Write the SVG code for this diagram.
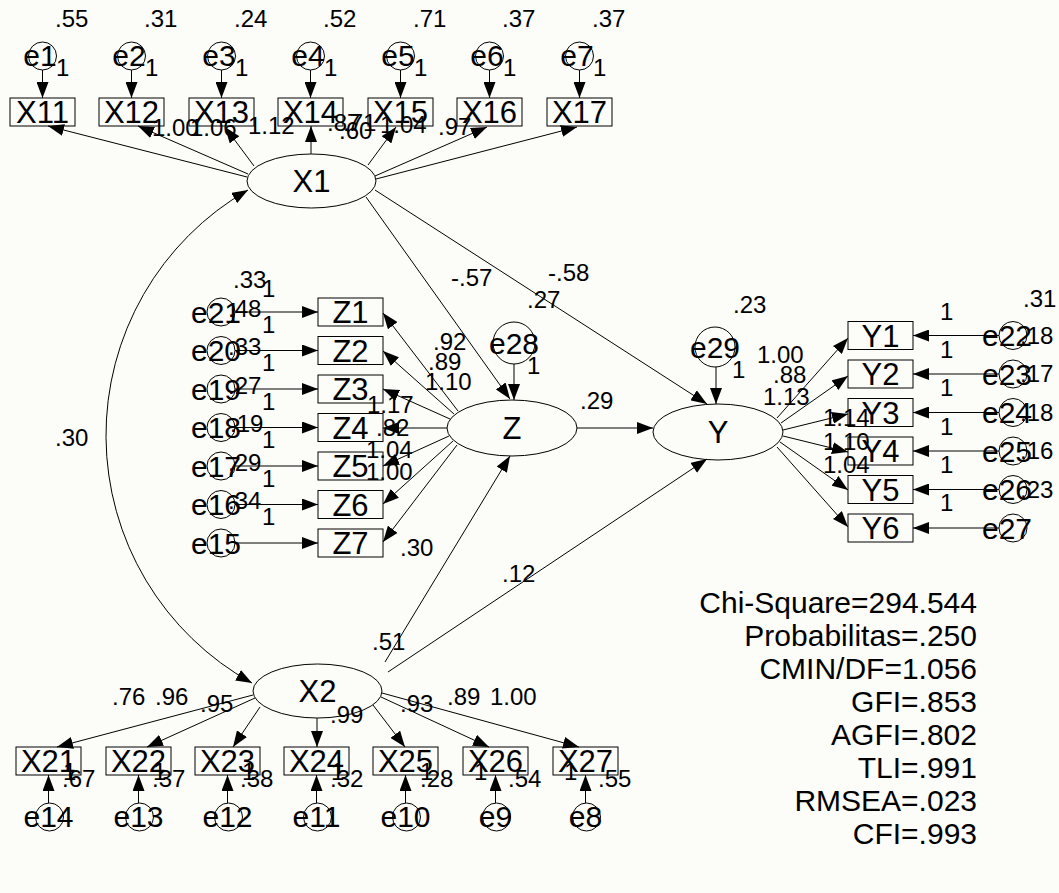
<svg xmlns="http://www.w3.org/2000/svg" width="1059" height="893" viewBox="0 0 1059 893">
<style>
.sh{fill:none;stroke:#000;stroke-width:1}
text{font-family:"Liberation Sans",Arial,sans-serif;fill:#000}
.n{font-size:31px;text-anchor:middle}
.e{font-size:30px;text-anchor:middle}
.eb{font-size:30px;text-anchor:middle}
.s{font-size:24px}
.st{font-size:30px;text-anchor:end}
.c{fill:none;stroke:#000;stroke-width:1;marker-end:url(#ah)}
</style>
<defs>
<marker id="ah" markerUnits="userSpaceOnUse" markerWidth="16" markerHeight="12" refX="16" refY="6" orient="auto"><path d="M0,0 L16,6 L0,12 z" fill="#000"/></marker>
<marker id="ah2" markerUnits="userSpaceOnUse" markerWidth="16" markerHeight="12" refX="16" refY="6" orient="auto-start-reverse"><path d="M0,0 L16,6 L0,12 z" fill="#000"/></marker>
</defs>
<rect width="1059" height="893" fill="#fcfcf8"/>

<g id="connectors">
<line class="c" x1="42.5" y1="70" x2="42.5" y2="98"/>
<line class="c" x1="131.5" y1="70" x2="131.5" y2="98"/>
<line class="c" x1="221.5" y1="70" x2="221.5" y2="98"/>
<line class="c" x1="310.5" y1="70" x2="310.5" y2="98"/>
<line class="c" x1="400.5" y1="70" x2="400.5" y2="98"/>
<line class="c" x1="489.5" y1="70" x2="489.5" y2="98"/>
<line class="c" x1="579.5" y1="70" x2="579.5" y2="98"/>
<line class="c" x1="247" y1="177" x2="48" y2="126"/>
<line class="c" x1="248" y1="174" x2="138" y2="126"/>
<line class="c" x1="254" y1="166" x2="225" y2="127"/>
<line class="c" x1="311" y1="154" x2="311" y2="126"/>
<line class="c" x1="368" y1="165" x2="396" y2="127"/>
<line class="c" x1="375" y1="176" x2="487" y2="127"/>
<line class="c" x1="376" y1="179" x2="577" y2="127"/>
<path d="M248 190 A283 283 0 0 0 252 683" fill="none" stroke="#000" stroke-width="1" marker-start="url(#ah2)" marker-end="url(#ah2)"/>
<line class="c" x1="235" y1="312" x2="318" y2="312"/>
<line class="c" x1="235" y1="350.5" x2="318" y2="350.5"/>
<line class="c" x1="235" y1="389" x2="318" y2="389"/>
<line class="c" x1="235" y1="427.5" x2="318" y2="427.5"/>
<line class="c" x1="235" y1="466" x2="318" y2="466"/>
<line class="c" x1="235" y1="504.5" x2="318" y2="504.5"/>
<line class="c" x1="235" y1="543" x2="318" y2="543"/>
<line class="c" x1="458" y1="411" x2="383" y2="313"/>
<line class="c" x1="454" y1="414" x2="383" y2="351"/>
<line class="c" x1="450" y1="419" x2="383" y2="389"/>
<line class="c" x1="447" y1="428" x2="383" y2="428"/>
<line class="c" x1="449" y1="436" x2="383" y2="466"/>
<line class="c" x1="453" y1="441" x2="383" y2="504"/>
<line class="c" x1="457" y1="445" x2="383" y2="542"/>
<line class="c" x1="514" y1="364" x2="514" y2="400"/>
<line class="c" x1="716" y1="367" x2="716" y2="404"/>
<line class="c" x1="366" y1="197" x2="510" y2="399"/>
<line class="c" x1="375" y1="190" x2="707" y2="404"/>
<line class="c" x1="577" y1="428" x2="653" y2="428"/>
<line class="c" x1="385" y1="662" x2="510" y2="456"/>
<line class="c" x1="388" y1="672" x2="707" y2="459"/>
<line class="c" x1="777" y1="418" x2="848" y2="338"/>
<line class="c" x1="781" y1="423" x2="848" y2="376"/>
<line class="c" x1="783" y1="430" x2="848" y2="414"/>
<line class="c" x1="783" y1="436" x2="848" y2="452"/>
<line class="c" x1="780" y1="442" x2="848" y2="490"/>
<line class="c" x1="777" y1="447" x2="848" y2="527"/>
<line class="c" x1="999" y1="335.5" x2="913" y2="335.5"/>
<line class="c" x1="999" y1="374" x2="913" y2="374"/>
<line class="c" x1="999" y1="412.5" x2="913" y2="412.5"/>
<line class="c" x1="999" y1="451" x2="913" y2="451"/>
<line class="c" x1="999" y1="489.5" x2="913" y2="489.5"/>
<line class="c" x1="999" y1="528" x2="913" y2="528"/>
<line class="c" x1="253" y1="695" x2="57" y2="747"/>
<line class="c" x1="255" y1="698" x2="147" y2="747"/>
<line class="c" x1="260" y1="707" x2="233" y2="747"/>
<line class="c" x1="317" y1="718" x2="317" y2="747"/>
<line class="c" x1="373" y1="705" x2="405" y2="747"/>
<line class="c" x1="381" y1="697" x2="489" y2="747"/>
<line class="c" x1="382" y1="693" x2="579" y2="747"/>
<line class="c" x1="48.5" y1="803" x2="48.5" y2="775"/>
<line class="c" x1="138.5" y1="803" x2="138.5" y2="775"/>
<line class="c" x1="227.5" y1="803" x2="227.5" y2="775"/>
<line class="c" x1="316.5" y1="803" x2="316.5" y2="775"/>
<line class="c" x1="405.5" y1="803" x2="405.5" y2="775"/>
<line class="c" x1="495.5" y1="803" x2="495.5" y2="775"/>
<line class="c" x1="585.5" y1="803" x2="585.5" y2="775"/>
</g>

<g id="X1"><ellipse class="sh" cx="311.5" cy="181" rx="64.5" ry="27"/><text class="n" x="311.5" y="192">X1</text></g>
<g id="X2"><ellipse class="sh" cx="317.5" cy="691" rx="64.5" ry="27"/><text class="n" x="317.5" y="702">X2</text></g>
<g id="Z"><ellipse class="sh" cx="512" cy="428" rx="65" ry="28"/><text class="n" x="512" y="439">Z</text></g>
<g id="Y"><ellipse class="sh" cx="718" cy="432" rx="65" ry="28"/><text class="n" x="718" y="443">Y</text></g>

<g id="X11"><rect class="sh" x="10" y="98" width="65" height="28"/><text class="n" x="42.5" y="123">X11</text></g>
<g id="X12"><rect class="sh" x="99" y="98" width="65" height="28"/><text class="n" x="131.5" y="123">X12</text></g>
<g id="X13"><rect class="sh" x="189" y="98" width="65" height="28"/><text class="n" x="221.5" y="123">X13</text></g>
<g id="X14"><rect class="sh" x="278" y="98" width="65" height="28"/><text class="n" x="310.5" y="123">X14</text></g>
<g id="X15"><rect class="sh" x="368" y="98" width="65" height="28"/><text class="n" x="400.5" y="123">X15</text></g>
<g id="X16"><rect class="sh" x="457" y="98" width="65" height="28"/><text class="n" x="489.5" y="123">X16</text></g>
<g id="X17"><rect class="sh" x="547" y="98" width="65" height="28"/><text class="n" x="579.5" y="123">X17</text></g>

<g id="e1"><circle class="sh" cx="42.5" cy="56" r="14"/><text class="e" x="40" y="66">e1</text></g>
<g id="e2"><circle class="sh" cx="131.5" cy="56" r="14"/><text class="e" x="129" y="66">e2</text></g>
<g id="e3"><circle class="sh" cx="221.5" cy="56" r="14"/><text class="e" x="219" y="66">e3</text></g>
<g id="e4"><circle class="sh" cx="310.5" cy="56" r="14"/><text class="e" x="308" y="66">e4</text></g>
<g id="e5"><circle class="sh" cx="400.5" cy="56" r="14"/><text class="e" x="398" y="66">e5</text></g>
<g id="e6"><circle class="sh" cx="489.5" cy="56" r="14"/><text class="e" x="487" y="66">e6</text></g>
<g id="e7"><circle class="sh" cx="579.5" cy="56" r="14"/><text class="e" x="577" y="66">e7</text></g>

<g id="Z1"><rect class="sh" x="318" y="298" width="65" height="28"/><text class="n" x="350.5" y="323">Z1</text></g>
<g id="Z2"><rect class="sh" x="318" y="336.5" width="65" height="28"/><text class="n" x="350.5" y="361.5">Z2</text></g>
<g id="Z3"><rect class="sh" x="318" y="375" width="65" height="28"/><text class="n" x="350.5" y="400">Z3</text></g>
<g id="Z4"><rect class="sh" x="318" y="413.5" width="65" height="28"/><text class="n" x="350.5" y="438.5">Z4</text></g>
<g id="Z5"><rect class="sh" x="318" y="452" width="65" height="28"/><text class="n" x="350.5" y="477">Z5</text></g>
<g id="Z6"><rect class="sh" x="318" y="490.5" width="65" height="28"/><text class="n" x="350.5" y="515.5">Z6</text></g>
<g id="Z7"><rect class="sh" x="318" y="529" width="65" height="28"/><text class="n" x="350.5" y="554">Z7</text></g>

<g id="e21"><circle class="sh" cx="221" cy="312" r="14"/><text class="e" x="216" y="322.5">e21</text></g>
<g id="e20"><circle class="sh" cx="221" cy="350.5" r="14"/><text class="e" x="216" y="361">e20</text></g>
<g id="e19"><circle class="sh" cx="221" cy="389" r="14"/><text class="e" x="216" y="399.5">e19</text></g>
<g id="e18"><circle class="sh" cx="221" cy="427.5" r="14"/><text class="e" x="216" y="438">e18</text></g>
<g id="e17"><circle class="sh" cx="221" cy="466" r="14"/><text class="e" x="216" y="476.5">e17</text></g>
<g id="e16"><circle class="sh" cx="221" cy="504.5" r="14"/><text class="e" x="216" y="515">e16</text></g>
<g id="e15"><circle class="sh" cx="221" cy="543" r="14"/><text class="e" x="216" y="553.5">e15</text></g>

<g id="e28"><circle class="sh" cx="514" cy="343" r="21"/><text class="eb" x="514" y="354">e28</text></g>
<g id="e29"><circle class="sh" cx="715" cy="347" r="20"/><text class="eb" x="715" y="358">e29</text></g>

<g id="Y1"><rect class="sh" x="848" y="321.5" width="65" height="28"/><text class="n" x="880.5" y="346.5">Y1</text></g>
<g id="Y2"><rect class="sh" x="848" y="360" width="65" height="28"/><text class="n" x="880.5" y="385">Y2</text></g>
<g id="Y3"><rect class="sh" x="848" y="398.5" width="65" height="28"/><text class="n" x="880.5" y="423.5">Y3</text></g>
<g id="Y4"><rect class="sh" x="848" y="437" width="65" height="28"/><text class="n" x="880.5" y="462">Y4</text></g>
<g id="Y5"><rect class="sh" x="848" y="475.5" width="65" height="28"/><text class="n" x="880.5" y="500.5">Y5</text></g>
<g id="Y6"><rect class="sh" x="848" y="514" width="65" height="28"/><text class="n" x="880.5" y="539">Y6</text></g>

<g id="e22"><circle class="sh" cx="1013" cy="335.5" r="14"/><text class="e" x="1007" y="346">e22</text></g>
<g id="e23"><circle class="sh" cx="1013" cy="374" r="14"/><text class="e" x="1007" y="384.5">e23</text></g>
<g id="e24"><circle class="sh" cx="1013" cy="412.5" r="14"/><text class="e" x="1007" y="423">e24</text></g>
<g id="e25"><circle class="sh" cx="1013" cy="451" r="14"/><text class="e" x="1007" y="461.5">e25</text></g>
<g id="e26"><circle class="sh" cx="1013" cy="489.5" r="14"/><text class="e" x="1007" y="500">e26</text></g>
<g id="e27"><circle class="sh" cx="1013" cy="528" r="14"/><text class="e" x="1007" y="538.5">e27</text></g>

<g id="X21"><rect class="sh" x="16" y="747" width="65" height="28"/><text class="n" x="48.5" y="772">X21</text></g>
<g id="X22"><rect class="sh" x="106" y="747" width="65" height="28"/><text class="n" x="138.5" y="772">X22</text></g>
<g id="X23"><rect class="sh" x="195" y="747" width="65" height="28"/><text class="n" x="227.5" y="772">X23</text></g>
<g id="X24"><rect class="sh" x="284" y="747" width="65" height="28"/><text class="n" x="316.5" y="772">X24</text></g>
<g id="X25"><rect class="sh" x="373" y="747" width="65" height="28"/><text class="n" x="405.5" y="772">X25</text></g>
<g id="X26"><rect class="sh" x="463" y="747" width="65" height="28"/><text class="n" x="495.5" y="772">X26</text></g>
<g id="X27"><rect class="sh" x="553" y="747" width="65" height="28"/><text class="n" x="585.5" y="772">X27</text></g>

<g id="e14"><circle class="sh" cx="49.5" cy="817" r="14"/><text class="e" x="48.5" y="827">e14</text></g>
<g id="e13"><circle class="sh" cx="139.5" cy="817" r="14"/><text class="e" x="138.5" y="827">e13</text></g>
<g id="e12"><circle class="sh" cx="228.5" cy="817" r="14"/><text class="e" x="227.5" y="827">e12</text></g>
<g id="e11"><circle class="sh" cx="317.5" cy="817" r="14"/><text class="e" x="316.5" y="827">e11</text></g>
<g id="e10"><circle class="sh" cx="406.5" cy="817" r="14"/><text class="e" x="405.5" y="827">e10</text></g>
<g id="e9"><circle class="sh" cx="496.5" cy="817" r="14"/><text class="e" x="495.5" y="827">e9</text></g>
<g id="e8"><circle class="sh" cx="586.5" cy="817" r="14"/><text class="e" x="585.5" y="827">e8</text></g>

<g id="labels">
<text class="s" x="55" y="27">.55</text><text class="s" x="144" y="27">.31</text><text class="s" x="234" y="27">.24</text><text class="s" x="323" y="27">.52</text><text class="s" x="413" y="27">.71</text><text class="s" x="502" y="27">.37</text><text class="s" x="592" y="27">.37</text>
<text class="s" x="56" y="76">1</text><text class="s" x="145" y="76">1</text><text class="s" x="235" y="76">1</text><text class="s" x="324" y="76">1</text><text class="s" x="414" y="76">1</text><text class="s" x="503" y="76">1</text><text class="s" x="593" y="76">1</text>
<text class="s" x="152" y="136">1.00</text><text class="s" x="190" y="136">1.06</text><text class="s" x="248" y="134">1.12</text>
<text class="s" x="327" y="131">.87</text><text class="s" x="343" y="131">.71</text><text class="s" x="339" y="139">.60</text>
<text class="s" x="380" y="133">1.04</text><text class="s" x="438" y="135">.97</text>
<text class="s" x="233" y="288">.33</text>
<text class="s" x="262" y="297">1</text><text class="s" x="262" y="333">1</text><text class="s" x="262" y="371">1</text><text class="s" x="262" y="410">1</text><text class="s" x="262" y="448">1</text><text class="s" x="262" y="487">1</text><text class="s" x="262" y="525">1</text>
<text class="s" x="228" y="317">.48</text><text class="s" x="228" y="355">.33</text><text class="s" x="228" y="394">.27</text><text class="s" x="230" y="432">.19</text><text class="s" x="228" y="471">.29</text><text class="s" x="228" y="509">.34</text>
<text class="s" x="433" y="350">.92</text><text class="s" x="428" y="370">.89</text><text class="s" x="425" y="390">1.10</text>
<text class="s" x="367" y="413">1.17</text><text class="s" x="376" y="436">.82</text><text class="s" x="366" y="458">1.04</text><text class="s" x="366" y="480">1.00</text><text class="s" x="400" y="556">.30</text>
<text class="s" x="527" y="374">1</text>
<text class="s" x="732" y="378">1</text><text class="s" x="733" y="313">.23</text>
<text class="s" x="451" y="286">-.57</text><text class="s" x="548" y="281">-.58</text><text class="s" x="527" y="308">.27</text>
<text class="s" x="580" y="409">.29</text><text class="s" x="372" y="650">.51</text><text class="s" x="502" y="582">.12</text>
<text class="s" x="55" y="446">.30</text>
<text class="s" x="757" y="363">1.00</text><text class="s" x="773" y="383">.88</text><text class="s" x="763" y="405">1.13</text>
<text class="s" x="823" y="426">1.14</text><text class="s" x="823" y="450">1.10</text><text class="s" x="823" y="473">1.04</text>
<text class="s" x="1023" y="307">.31</text>
<text class="s" x="940" y="320">1</text><text class="s" x="940" y="358">1</text><text class="s" x="940" y="396">1</text><text class="s" x="940" y="435">1</text><text class="s" x="940" y="473">1</text><text class="s" x="940" y="511">1</text>
<text class="s" x="1020" y="344">.18</text><text class="s" x="1020" y="382">.17</text><text class="s" x="1020" y="421">.18</text><text class="s" x="1020" y="459">.16</text><text class="s" x="1020" y="498">.23</text>
<text class="s" x="112" y="705">.76</text><text class="s" x="155" y="705">.96</text><text class="s" x="200" y="712">.95</text><text class="s" x="330" y="723">.99</text>
<text class="s" x="400" y="712">.93</text><text class="s" x="447" y="705">.89</text><text class="s" x="490" y="705">1.00</text>
<text class="s" x="63" y="780">1</text><text class="s" x="153" y="780">1</text><text class="s" x="242" y="780">1</text><text class="s" x="331" y="780">1</text><text class="s" x="420" y="780">1</text><text class="s" x="474" y="780">1</text><text class="s" x="564" y="780">1</text>
<text class="s" x="62" y="787">.67</text><text class="s" x="152" y="787">.37</text><text class="s" x="240" y="787">.38</text><text class="s" x="330" y="787">.32</text><text class="s" x="420" y="787">.28</text><text class="s" x="508" y="787">.54</text><text class="s" x="598" y="787">.55</text>
</g>

<g id="fit">
<text class="st" x="977" y="613">Chi-Square=294.544</text>
<text class="st" x="977" y="646">Probabilitas=.250</text>
<text class="st" x="977" y="679">CMIN/DF=1.056</text>
<text class="st" x="977" y="712">GFI=.853</text>
<text class="st" x="977" y="745">AGFI=.802</text>
<text class="st" x="977" y="778">TLI=.991</text>
<text class="st" x="977" y="811">RMSEA=.023</text>
<text class="st" x="977" y="844">CFI=.993</text>
</g>
</svg>
